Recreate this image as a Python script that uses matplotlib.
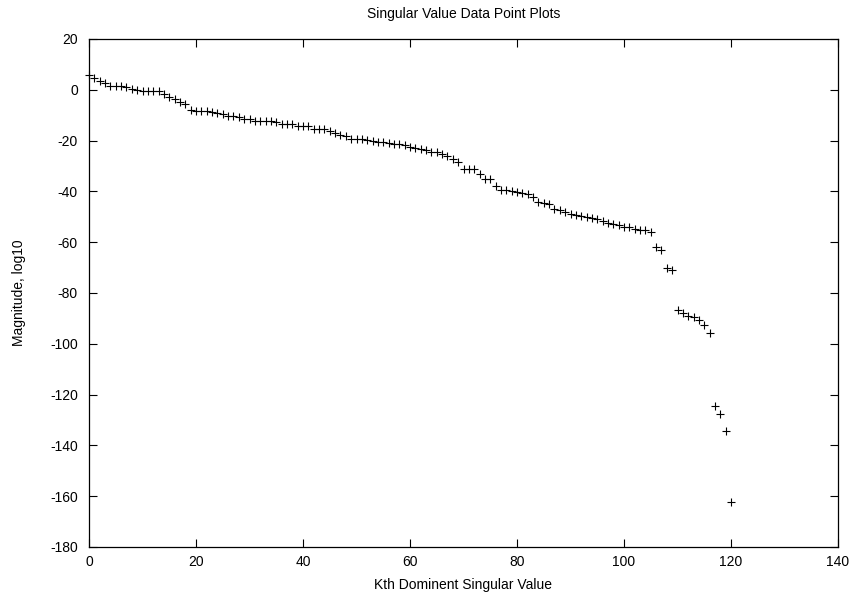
import matplotlib
matplotlib.use("Agg")
import matplotlib.pyplot as plt
import numpy as np

# Singular value magnitudes (log10), ordered by dominance
k_index = list(range(121))
magnitude = [
    5.8, 4.5, 3.6, 2.6, 1.6, 1.5, 1.5, 1.0, 0.5, -0.2,
    -0.3, -0.3, -0.3, -0.5, -1.6, -2.7, -3.7, -4.7, -5.5, -7.8,
    -8.3, -8.4, -8.5, -8.6, -9.3, -9.6, -10.2, -10.5, -10.7, -11.5,
    -11.6, -12.2, -12.3, -12.3, -12.4, -12.6, -13.3, -13.4, -13.5, -14.2,
    -14.3, -14.4, -15.4, -15.5, -15.6, -16.3, -17.0, -17.6, -18.3, -19.3,
    -19.4, -19.5, -19.6, -20.3, -20.4, -20.5, -21.0, -21.2, -21.3, -21.7,
    -22.6, -23.0, -23.2, -23.6, -24.3, -24.6, -25.3, -26.2, -27.2, -28.3,
    -31.0, -31.2, -31.3, -33.2, -35.0, -35.3, -38.0, -39.3, -39.5, -40.0,
    -40.4, -40.8, -41.0, -42.1, -44.0, -44.7, -44.9, -46.8, -47.3, -48.0,
    -48.9, -49.3, -49.7, -50.2, -50.3, -51.0, -51.5, -52.3, -53.0, -53.4,
    -53.9, -54.2, -54.9, -55.0, -55.2, -56.0, -62.0, -63.0, -70.0, -71.0,
    -86.7, -87.8, -89.0, -89.6, -90.6, -92.7, -95.8, -124.4, -127.5, -134.5,
    -162.3,
]

x_ticks = [0, 20, 40, 60, 80, 100, 120, 140]
y_ticks = [-180, -160, -140, -120, -100, -80, -60, -40, -20, 0, 20]

plt.rcParams['font.family'] = ['Liberation Sans', 'DejaVu Sans']
plt.rcParams['axes.unicode_minus'] = False

fig = plt.figure(figsize=(8.56, 6.01), dpi=100)
ax = fig.add_axes([89 / 856, 1 - 547 / 601, (838 - 89) / 856, (547 - 39) / 601])

ax.plot(k_index, magnitude, linestyle='none', marker='+', color='black',
        markersize=6, markeredgewidth=0.8, clip_on=False)

ax.set_xlim(0, 140)
ax.set_ylim(-180, 20)
ax.set_xticks(x_ticks)
ax.set_yticks(y_ticks)
ax.tick_params(direction='in', length=6, width=0.8, top=True, right=True,
               labelsize=10)
ax.tick_params(axis='y', pad=8)
ax.tick_params(axis='x', pad=6)
for s in ax.spines.values():
    s.set_linewidth(0.9)

ax.set_title('Singular Value Data Point Plots', fontsize=10, pad=15)
ax.set_xlabel('Kth Dominent Singular Value', fontsize=10, labelpad=6)
ax.set_ylabel('Magnitude, log10', fontsize=10, labelpad=17)

fig.savefig('out.png', dpi=100)
